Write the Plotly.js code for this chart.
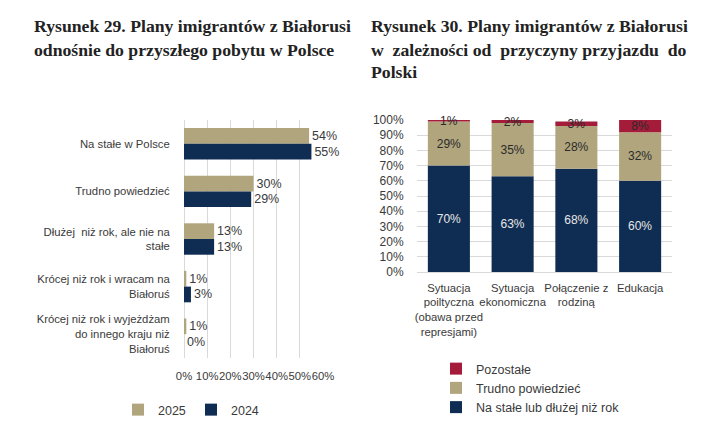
<!DOCTYPE html>
<html><head><meta charset="utf-8">
<script src="https://cdn.plot.ly/plotly-3.0.1.min.js"></script>
<style>html,body{margin:0;padding:0;background:#fff}#chart{width:724px;height:433px}</style>
</head><body><div id="chart"></div>
<script>
// Left chart (Rysunek 29)
const planCategories = ["Na stałe w Polsce", "Trudno powiedzieć", "Dłużej  niż rok, ale nie na<br>stałe", "Krócej niż rok i wracam na<br>Białoruś", "Krócej niż rok i wyjeżdżam<br>do innego kraju niż<br>Białoruś"];
const values2025 = [54, 30, 13, 1, 1];
const values2024 = [55, 29, 13, 3, 0];
const xTickVals = [0, 10, 20, 30, 40, 50, 60];
const xTickText = ["0%", "10%", "20%", "30%", "40%", "50%", "60%"];

// Right chart (Rysunek 30)
const reasonCategories = ["Sytuacja<br>poiltyczna<br>(obawa przed<br>represjami)", "Sytuacja<br>ekonomiczna", "Połączenie z<br>rodziną", "Edukacja"];
const naStale = [70, 63, 68, 60];
const trudno = [29, 35, 28, 32];
const pozostale = [1, 2, 3, 8];
const yTickVals = [0, 10, 20, 30, 40, 50, 60, 70, 80, 90, 100];
const yTickText = yTickVals.map(v => v + "%");

const TAN = "#B1A57E", NAVY = "#0F2D52", RED = "#A51C3A";
const FONT = "Liberation Sans, Arial, sans-serif";
const TXT = "#3a3a3a";
const FS = 11.3;
const pct = a => a.map(v => v + "%");
// stacked bases (right chart drawn as one offset group, each segment starting on the previous)
const baseTrudno = naStale.slice();
const basePozostale = naStale.map((v, i) => v + trudno[i]);

const traces = [
  {type: "bar", orientation: "h", name: "2025", y: planCategories, x: values2025, xaxis: "x", yaxis: "y",
   marker: {color: TAN}, text: pct(values2025), textposition: "outside", cliponaxis: false,
   textfont: {family: FONT, size: 12.5, color: TXT}, legend: "legend", hoverinfo: "skip"},
  {type: "bar", orientation: "h", name: "2024", y: planCategories, x: values2024, xaxis: "x", yaxis: "y",
   marker: {color: NAVY}, text: pct(values2024), textposition: "outside", cliponaxis: false,
   textfont: {family: FONT, size: 12.5, color: TXT}, legend: "legend", hoverinfo: "skip"},
  {type: "bar", name: "Na stałe lub dłużej niż rok", x: reasonCategories, y: naStale, xaxis: "x2", yaxis: "y2",
   offsetgroup: "s", marker: {color: NAVY}, text: pct(naStale), textposition: "inside", insidetextanchor: "middle",
   textfont: {family: FONT, size: 12, color: "#e6e6e6"}, legend: "legend2", hoverinfo: "skip"},
  {type: "bar", name: "Trudno powiedzieć", x: reasonCategories, y: trudno, base: baseTrudno, xaxis: "x2", yaxis: "y2",
   offsetgroup: "s", marker: {color: TAN}, text: pct(trudno), textposition: "inside", insidetextanchor: "middle",
   textfont: {family: FONT, size: 12, color: "#2a2a2a"}, legend: "legend2", hoverinfo: "skip"},
  {type: "bar", name: "Pozostałe", x: reasonCategories, y: pozostale, base: basePozostale, xaxis: "x2", yaxis: "y2",
   offsetgroup: "s", marker: {color: RED}, text: pct(pozostale), textposition: "inside", insidetextanchor: "middle",
   constraintext: "none", cliponaxis: false, textfont: {family: FONT, size: 12, color: "#2a2a2a"},
   legend: "legend2", hoverinfo: "skip"}
];

const titleFont = {family: "Liberation Serif, Times New Roman, serif", size: 17.7, color: "#222", weight: "bold"};
function tl(text, x, y) {
  return {text: text, xref: "paper", yref: "paper", x: x / 724, y: 1 - y / 433, xanchor: "left", yanchor: "middle",
          showarrow: false, font: titleFont};
}

const layout = {
  width: 724, height: 433, margin: {l: 0, r: 0, t: 0, b: 0},
  paper_bgcolor: "#fff", plot_bgcolor: "#fff",
  barmode: "group", bargap: 0.34,
  font: {family: FONT, size: FS, color: TXT},
  xaxis: {domain: [184/724, 323/724], anchor: "y", range: [0, 60], tickvals: xTickVals, ticktext: xTickText,
          tickangle: 0, showgrid: true, gridcolor: "#d9d9d9", zeroline: true, zerolinecolor: "#d9d9d9",
          showline: false, ticks: "outside", ticklen: 7, tickcolor: "rgba(0,0,0,0)",
          tickfont: {family: FONT, size: FS, color: TXT}, fixedrange: true},
  yaxis: {domain: [75/433, 313/433], anchor: "x", autorange: "reversed", showgrid: false, zeroline: false,
          ticks: "outside", ticklen: 11, tickcolor: "rgba(0,0,0,0)", tickfont: {family: FONT, size: FS, color: TXT}},
  xaxis2: {domain: [417/724, 672/724], anchor: "y2", showgrid: false, zeroline: false, showline: false,
           ticks: "outside", ticklen: 5, tickcolor: "rgba(0,0,0,0)", tickangle: 0,
           tickfont: {family: FONT, size: FS, color: TXT}},
  yaxis2: {domain: [161/433, 313/433], anchor: "x2", range: [0, 100], tickvals: yTickVals, ticktext: yTickText,
           showgrid: true, gridcolor: "#d9d9d9", zeroline: true, zerolinecolor: "#d9d9d9", showline: false,
           ticks: "outside", ticklen: 10, tickcolor: "rgba(0,0,0,0)", tickfont: {family: FONT, size: 12, color: TXT}},
  legend: {orientation: "h", x: 118/724, y: 1 - 395/433, xanchor: "left", yanchor: "top", traceorder: "normal",
           font: {family: FONT, size: 12.5, color: TXT}, entrywidth: 28, entrywidthmode: "pixels"},
  legend2: {orientation: "v", x: 436/724, y: 1 - 354/433, xanchor: "left", yanchor: "top", traceorder: "reversed",
            font: {family: FONT, size: 12.5, color: TXT}, itemwidth: 30},
  annotations: [
    tl("Rysunek 29. Plany imigrantów z Białorusi", 32, 26),
    tl("odnośnie do przyszłego pobytu w Polsce", 32, 50),
    tl("Rysunek 30. Plany imigrantów z Białorusi", 369, 26),
    tl("w&nbsp; zależności od&nbsp; przyczyny przyjazdu&nbsp; do", 369, 50),
    tl("Polski", 369, 72)
  ]
};
Plotly.newPlot("chart", traces, layout, {staticPlot: true});
</script></body></html>
